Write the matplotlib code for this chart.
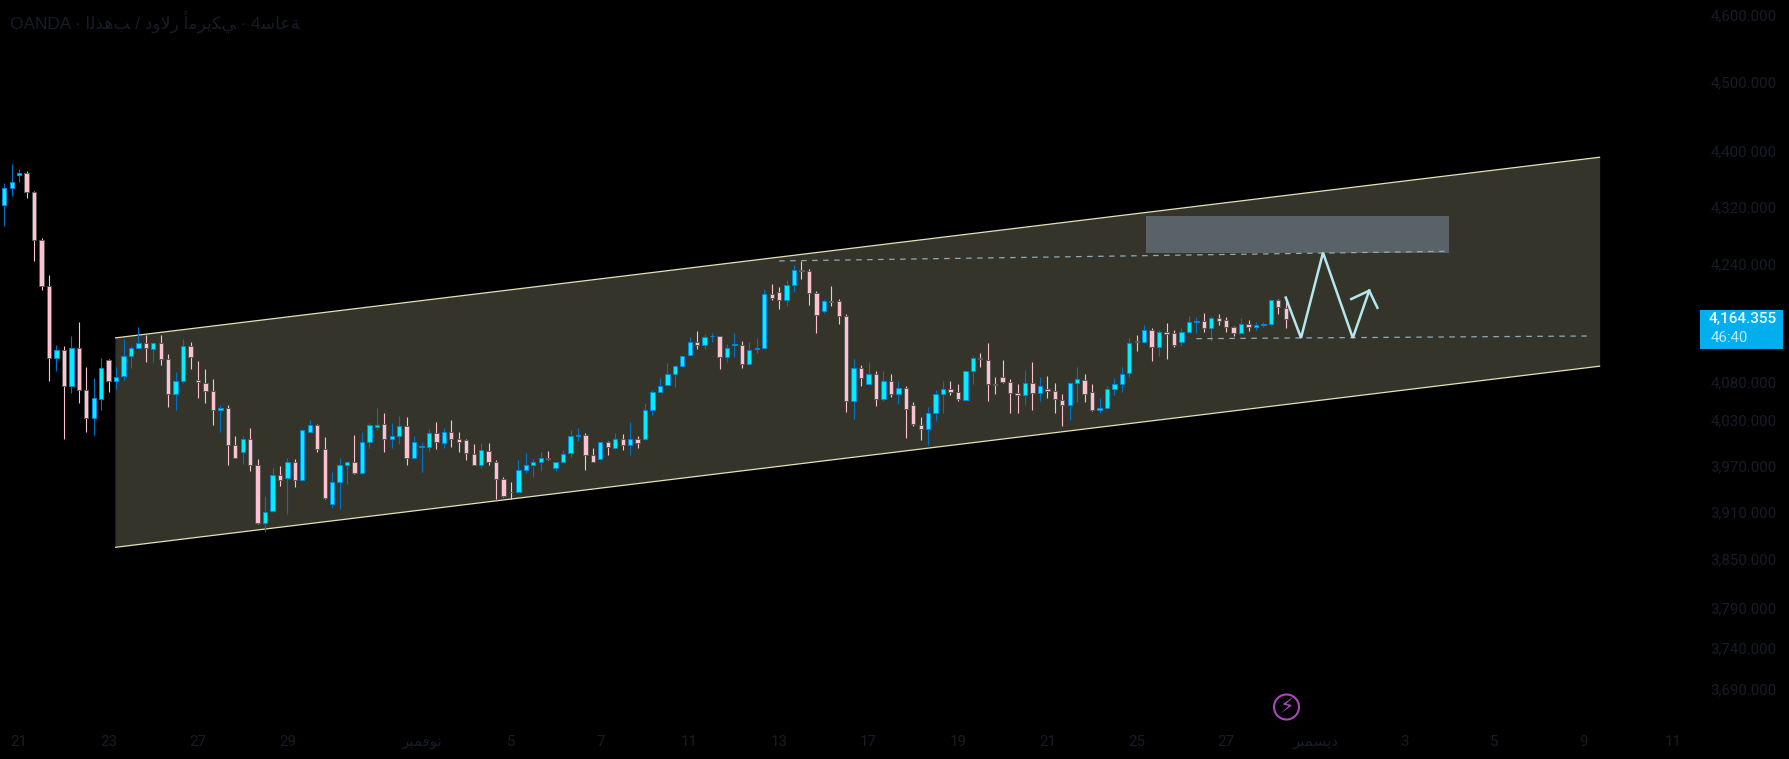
import matplotlib
matplotlib.use("Agg")
import matplotlib.pyplot as plt
from matplotlib.patches import Rectangle, Circle, Polygon
from matplotlib.ticker import FixedLocator, NullLocator
import numpy as np

opens = [4323,4347,4365,4368,4341,4274,4210,4112,4123,4074,
4126,4069,4032,4057,4109,4081,4088,4115,4125,4132,
4124,4132,4110,4064,4081,4128,4083,4079,4068,4042,
4045,3997,3988,4005,3971,3896,3911,3957,3954,3974,
3951,4014,4023,3991,3920,3948,3970,3974,3960,4000,
4020,4024,4004,4009,4021,3979,3994,3994,4012,3999,
4014,4004,4003,3985,3971,3989,3974,3953,3936,3935,
3964,3970,3974,3980,3966,3975,3986,4009,4010,3984,
3978,4000,3993,4005,3996,4004,4004,4042,4067,4076,
4090,4101,4116,4134,4129,4141,4141,4113,4130,4130,
4104,4124,4126,4199,4202,4190,4211,4232,4231,4200,
4175,4189,4189,4169,4054,4098,4077,4091,4057,4081,
4064,4072,4049,4023,4017,4038,4064,4070,4066,4056,
4094,4112,4109,4077,4086,4080,4065,4062,4078,4065,
4071,4068,4056,4049,4078,4083,4066,4042,4045,4070,
4077,4092,4135,4133,4150,4127,4147,4145,4133,4147,
4161,4162,4152,4166,4164,4154,4145,4158,4154,4157,
4158,4191,4180]
highs = [4354,4381,4374,4371,4343,4276,4225,4129,4128,4142,
4161,4100,4085,4112,4110,4100,4137,4128,4154,4143,
4133,4143,4117,4093,4138,4134,4108,4097,4084,4049,
4049,4008,4009,4019,3978,3930,3967,3969,3980,3978,
4017,4029,4024,4007,3962,3980,3976,4010,4013,4025,
4045,4038,4025,4035,4034,4008,4000,4017,4027,4019,
4029,4014,4004,3998,3999,3999,3977,3955,3948,3977,
3986,3978,3988,3989,3975,3990,4016,4019,4012,3993,
4001,4002,4012,4011,4027,4008,4052,4069,4085,4105,
4102,4116,4140,4148,4144,4146,4142,4131,4145,4135,
4133,4139,4206,4212,4209,4218,4239,4245,4233,4203,
4192,4210,4192,4171,4110,4103,4106,4094,4095,4090,
4081,4074,4053,4034,4046,4069,4081,4081,4077,4096,
4115,4119,4132,4087,4109,4084,4077,4096,4107,4086,
4088,4078,4064,4080,4100,4090,4077,4059,4074,4085,
4100,4139,4143,4156,4152,4150,4159,4150,4152,4169,
4167,4173,4169,4171,4167,4155,4166,4163,4161,4160,
4192,4192,4192]
lows = [4293,4336,4356,4333,4245,4205,4081,4094,4004,4065,
4052,4014,4010,4043,4066,4071,4083,4099,4124,4107,
4106,4102,4047,4043,4078,4097,4058,4052,4023,4014,
3971,3979,3972,3963,3895,3885,3910,3944,3907,3942,
3950,4013,3988,3926,3915,3914,3946,3959,3959,3993,
4016,3988,3993,3998,3971,3978,3961,3989,3992,3993,
3994,3988,3977,3970,3966,3971,3926,3929,3926,3934,
3960,3955,3963,3977,3963,3973,3981,4002,3964,3974,
3977,3984,3992,3990,3983,3993,4003,4036,4066,4075,
4073,4100,4115,4124,4124,4133,4097,4106,4113,4098,
4103,4118,4124,4190,4179,4183,4202,4219,4184,4145,
4173,4183,4158,4040,4031,4075,4076,4048,4054,4060,
4051,4006,4022,4003,3997,4028,4039,4063,4055,4055,
4077,4100,4055,4064,4079,4038,4038,4049,4043,4055,
4059,4039,4022,4029,4053,4053,4041,4039,4044,4063,
4067,4087,4122,4132,4108,4115,4110,4127,4128,4146,
4146,4147,4135,4157,4147,4142,4144,4149,4150,4154,
4157,4171,4152]
closes = [4347,4355,4368,4341,4274,4210,4112,4123,4074,4126,
4069,4032,4058,4098,4081,4087,4115,4125,4132,4125,
4132,4110,4064,4081,4128,4113,4080,4068,4042,4045,
3997,3980,4005,3971,3896,3910,3957,3951,3974,3951,
4016,4023,3991,3928,3948,3970,3975,3960,4000,4023,
4023,4004,4009,4021,3979,4001,3995,4012,4000,4014,
4004,4000,3986,3971,3990,3974,3953,3930,3935,3964,
3970,3974,3980,3978,3975,3985,4009,4010,3984,3975,
4000,3994,4005,3996,4004,3999,4042,4067,4075,4090,
4101,4114,4134,4130,4140,4142,4113,4125,4131,4104,
4123,4125,4199,4193,4190,4211,4232,4231,4200,4170,
4189,4188,4169,4054,4098,4085,4090,4057,4081,4064,
4072,4044,4024,4017,4038,4064,4070,4066,4057,4094,
4112,4110,4077,4076,4080,4065,4062,4078,4065,4075,
4068,4057,4049,4078,4084,4064,4042,4045,4070,4077,
4091,4132,4134,4150,4127,4147,4144,4129,4147,4161,
4162,4152,4166,4162,4154,4145,4158,4154,4157,4158,
4191,4181,4164.355]

price_ticks = [4600,4500,4400,4320,4240,4080,4030,3970,3910,3850,3790,3740,3690]
date_ticks = [2,14,26,38,56,68,80,92,104,116,128,140,152,164,176,188,200,212,224]
date_labels = ["21","23","27","29","ﺮﺒﻤﻓﻮﻧ","5","7","11","13","17","19","21","25","27","ﺮﺒﻤﺴﻳﺩ","3","5","9","11"]
title_text = "OANDA · ﺍﻟﺬﻫﺐ / ﺩﻭﻻﺭ ﺃﻣﺮﻳﻜﻲ · 4ﺳﺎﻋﺔ"
current_price = closes[-1]
countdown = "46:40"

channel_x = [14.86, 214.2]
channel_upper = [4139, 4391]
channel_lower = [3865, 4101]
zone_x = [153.3, 193.9]
zone_y = [4256, 4307]
res_x = [104, 193.9]
res_y = [4244.5, 4258]
sup_x = [160, 212.4]
sup_y = [4138, 4141.6]
path_x = [172.0, 174.05, 177, 181, 183.2]
path_y = [4194, 4139, 4256, 4139, 4203.5]
head_x = [180.8, 183.2, 184.3]
head_y = [4192, 4203.5, 4180]

W, H = 1789, 759
PANE_R, PANE_B = 1700, 725
TXT = "#181c28"
fam = ["Roboto", "DejaVu Sans"]
fig = plt.figure(figsize=(W/100, H/100), dpi=100, facecolor="black")
ax = fig.add_axes([0, 1-PANE_B/H, PANE_R/W, PANE_B/H], facecolor="black")
ax.set_yscale("log")
ax.set_xlim(-0.577, 227.6)
ax.set_ylim(3646.9, 4622.6)
for s in ax.spines.values():
    s.set_visible(False)

# channel
ax.add_patch(Polygon([(channel_x[0], channel_lower[0]), (channel_x[1], channel_lower[1]),
                      (channel_x[1], channel_upper[1]), (channel_x[0], channel_upper[0])],
                     closed=True, facecolor="#35342a", edgecolor="none", zorder=1))
ax.plot([channel_x[0]]*2, [channel_lower[0], channel_upper[0]], color="#1e1e18", lw=0.8, zorder=1.2)
for ys in (channel_upper, channel_lower):
    ax.plot(channel_x, ys, color="#e4e2b6", lw=0.9, zorder=1.5, solid_capstyle="butt")

# candles
x = np.arange(len(opens))
o, h, l, c = map(np.array, (opens, highs, lows, closes))
up = c >= o
dn = ~up
ax.vlines(x[up], l[up], h[up], color="#0072c6", lw=0.8, zorder=2)
ax.vlines(x[dn], l[dn], h[dn], color="#ffc0cf", lw=0.8, zorder=2)
ax.bar(x[up], (c-o)[up], bottom=o[up], width=0.58, color="#00f0ff", edgecolor="#0086dc", linewidth=0.75, zorder=3)
ax.bar(x[dn], (o-c)[dn], bottom=c[dn], width=0.58, color="#ffc0cf", edgecolor="#5a5a5a", linewidth=0.7, zorder=3)

# drawings
ax.add_patch(Rectangle((zone_x[0], zone_y[0]), zone_x[1]-zone_x[0], zone_y[1]-zone_y[0],
                       facecolor="#596266", edgecolor="none", zorder=4))
for xs, ys in ((res_x, res_y), (sup_x, sup_y)):
    ax.plot(xs, ys, color="#90aab8", lw=0.9, dashes=(4.4, 4.4), zorder=5)
ax.plot(path_x, path_y, color="#b4e8ee", lw=1.8, zorder=6, solid_joinstyle="miter")
ax.plot(head_x, head_y, color="#b4e8ee", lw=1.8, zorder=6, solid_joinstyle="miter")

# axes
ax.yaxis.tick_right()
ax.yaxis.set_major_locator(FixedLocator(price_ticks))
ax.yaxis.set_minor_locator(NullLocator())
ax.set_yticklabels([f"{p:,.3f}" for p in price_ticks], family=fam, fontsize=10.8, color=TXT, ha="right")
ax.tick_params(axis="y", length=0, pad=55)
ax.set_xticks(date_ticks)
ax.set_xticklabels(date_labels, family=fam, fontsize=10.8, color=TXT)
ax.tick_params(axis="x", length=0, pad=7)

fig.text(10/W, 1-22/H, title_text, family=["Liberation Sans", "DejaVu Sans"], fontsize=12.4, color=TXT, va="center", ha="left")

# last-price badge
fig.add_artist(Rectangle((1700/W, 1-349/H), 83/W, 39/H, transform=fig.transFigure, facecolor="#03aeef", edgecolor="none"))
fig.text(1777/W, 1-319/H, f"{current_price:,.3f}", family=fam, fontsize=11, weight="medium", color="#eefaff", ha="right", va="center")
fig.text(1711/W, 1-338/H, countdown, family=fam, fontsize=10.8, color="#b9e8fb", ha="left", va="center")

# event icon
fig.add_artist(Circle((1286.5, H-707), 12.5, transform=None, facecolor="black", edgecolor="#ab47bc", linewidth=1.5))
fig.text(1286.5/W, 1-707/H, "\u26a1", family="DejaVu Sans", fontsize=15, color="#ab47bc", ha="center", va="center")

fig.savefig("out.png", dpi=100, facecolor="black")
